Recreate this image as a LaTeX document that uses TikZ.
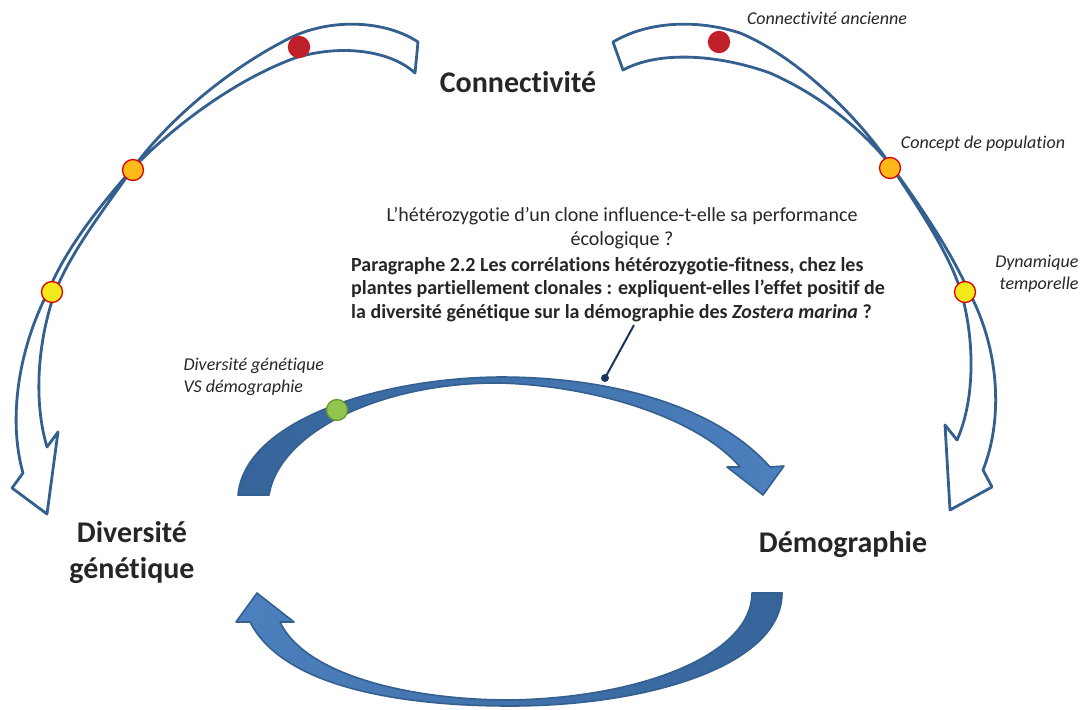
\documentclass[tikz,border=0pt]{standalone}
\usepackage{fontspec}
\setmainfont[Ligatures=NoCommon]{Carlito}
\usetikzlibrary{positioning}
\definecolor{Ink}{HTML}{262626}
\definecolor{Rim}{HTML}{34608F}
\definecolor{DeepBlue}{HTML}{36649A}
\definecolor{SoftBlue}{HTML}{4C80BE}
\definecolor{Pin}{HTML}{17375E}
\definecolor{DotRed}{HTML}{C0202A}
\definecolor{DotOrange}{HTML}{FDB81A}
\definecolor{DotYellow}{HTML}{F3E91A}
\definecolor{DotGreen}{HTML}{92C550}
\definecolor{GreenRim}{HTML}{6E9430}
\tikzset{
    hollowarrow/.style={draw=Rim, line width=2.8pt, fill=white, line join=round},
    fullarrow/.style={draw=Rim, line width=1.6pt, line join=round},
    spot/.style={circle, minimum size=21pt, inner sep=0pt, line width=1.3pt},
    redspot/.style={spot, fill=DotRed, draw=DotRed!90!red},
    orangespot/.style={spot, fill=DotOrange, draw=red!85!black},
    yellowspot/.style={spot, fill=DotYellow, draw=red!85!black},
    greenspot/.style={spot, fill=DotGreen, draw=GreenRim},
    keyword/.style={text=Ink, font=\fontsize{30}{36}\selectfont\bfseries, align=center},
    remark/.style={text=Ink, font=\fontsize{18}{22}\selectfont\itshape},
    pindot/.style={circle, fill=Pin, minimum size=8pt, inner sep=0pt},
}

\begin{document}
\begin{tikzpicture}[x=1pt, y=-1pt]
        \useasboundingbox (0,0) rectangle (1086,709);

        % Left arc (twisted, open)
        \draw[hollowarrow] (418,42) .. controls (385,20) and (330,18) .. (290,38)
            .. controls (230,68) and (170,118) .. (133,168)
            .. controls (105,208) and (72,250) .. (55,292)
            .. controls (38,340) and (33,400) .. (47,447)
            -- (58,432) -- (47,514) -- (12,488) -- (23,473)
            .. controls (8,420) and (18,350) .. (48,292)
            .. controls (65,250) and (98,208) .. (133,168)
            .. controls (175,125) and (235,80) .. (295,58)
            .. controls (340,44) and (390,50) .. (415,73) -- cycle;

        % Right arc (twisted, open)
        \draw[hollowarrow] (613,42) .. controls (650,20) and (700,20) .. (740,33)
            .. controls (800,58) and (860,120) .. (889,163)
            .. controls (920,210) and (950,255) .. (961,292)
            .. controls (975,340) and (975,400) .. (957,440)
            -- (945,425) -- (950,510) -- (992,487) -- (983,470)
            .. controls (1003,420) and (1000,350) .. (969,292)
            .. controls (950,250) and (920,205) .. (889,163)
            .. controls (860,128) and (820,95) .. (770,73)
            .. controls (720,55) and (660,50) .. (623,70) -- cycle;

        % Upper filled arc
        \shade[fullarrow, left color=DeepBlue, right color=SoftBlue]
            (238,495) .. controls (245,420) and (380,378) .. (500,377)
            .. controls (620,377) and (720,410) .. (770,467)
            -- (784,466) -- (763,495) -- (727,467) -- (740,467)
            .. controls (700,420) and (600,386) .. (500,383)
            .. controls (385,382) and (280,430) .. (269,495) -- cycle;

        % Lower filled arc
        \shade[fullarrow, left color=SoftBlue, right color=DeepBlue]
            (782,593) .. controls (782,665) and (650,706) .. (510,706)
            .. controls (410,706) and (285,690) .. (250,622)
            -- (236,622) -- (257,593) -- (294,622) -- (280,622)
            .. controls (305,675) and (410,700) .. (510,700)
            .. controls (640,698) and (752,655) .. (752,593) -- cycle;

        % Dots
        \node[redspot] (redL) at (299,47) {};
        \node[orangespot] (orangeL) at (133,170) {};
        \node[yellowspot] (yellowL) at (52,292) {};
        \node[redspot] (redR) at (719,42) {};
        \node[orangespot] (orangeR) at (890,168) {};
        \node[yellowspot] (yellowR) at (965,292) {};
        \node[greenspot] (greenC) at (337,410) {};

        % Main labels
        \node[keyword] (conn) at (518,82) {Connectivité};
        \node[keyword] (divgen) at (132,553) {Diversité\\génétique};
        \node[keyword] (demo) at (843,545) {Démographie};

        % Side remarks
        \node[remark] (oldlink) at (827,18) {Connectivité ancienne};
        \node[remark] (popconcept) at (983,144) {Concept de population};
        \node[remark, align=right, anchor=east] (tempdyn) at (1082,274) {Dynamique\\temporelle};
        \node[remark, align=left, anchor=west] (divdemo) at (180,377) {Diversité génétique\\VS démographie};

        % Question and paragraph
        \node[text=Ink, font=\fontsize{20}{24}\selectfont, align=center] (question) at (622,228)
            {L’hétérozygotie d’un clone influence-t-elle sa performance\\écologique ?};
        \node[text=Ink, font=\fontsize{20}{23.5}\selectfont\bfseries, align=left, anchor=north west, inner sep=0pt] (para) at (351,257)
            {Paragraphe 2.2 Les corrélations hétérozygotie-fitness, chez les\\
             plantes partiellement clonales : expliquent-elles l’effet positif de\\
             la diversité génétique sur la démographie des \textit{Zostera marina} ?};

        % Pointer
        \node[pindot] (pinhead) at (605,378) {};
        \coordinate (pintop) at (634,325);
        \draw[Pin, line width=2pt] (pinhead.center) -- (pintop);
    \end{tikzpicture}
\end{document}
